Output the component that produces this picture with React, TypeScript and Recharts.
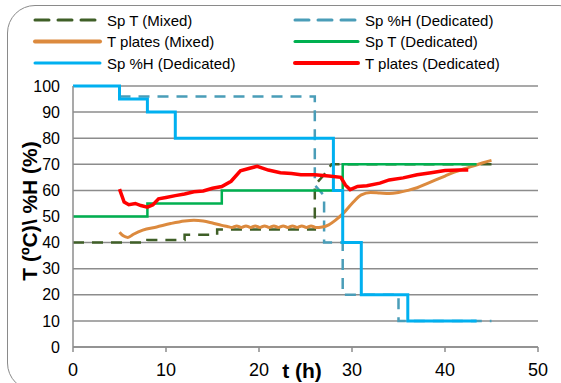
import React from 'react';
import { LineChart, Line, XAxis, YAxis, CartesianGrid } from 'recharts';

// series, t (h) -> value
const spTMixed = [
    { t: 0, v: 40 }, { t: 8, v: 40 }, { t: 8, v: 41 }, { t: 12, v: 41 }, { t: 12, v: 43 },
    { t: 15.5, v: 43 }, { t: 15.5, v: 45 }, { t: 26, v: 45 }, { t: 26, v: 62 },
    { t: 27, v: 66 }, { t: 27.8, v: 70 }, { t: 45, v: 70 },
];

const spHDedDashed = [
    { t: 5, v: 96 }, { t: 26, v: 96 }, { t: 26, v: 62 }, { t: 27, v: 58 }, { t: 27, v: 40 },
    { t: 29, v: 40 }, { t: 29, v: 20 }, { t: 35, v: 20 }, { t: 35, v: 10 }, { t: 45, v: 10 },
];

const tPlatesMixed = [
    { t: 5, v: 44 }, { t: 5.4, v: 42.6 }, { t: 5.9, v: 42 }, { t: 6.5, v: 43.2 }, { t: 7.5, v: 44.8 },
    { t: 9, v: 46 }, { t: 10.5, v: 47.3 }, { t: 12, v: 48.3 }, { t: 13, v: 48.6 }, { t: 14, v: 48.3 },
    { t: 15, v: 47.5 }, { t: 16, v: 46.6 }, { t: 16.6, v: 46.2 }, { t: 17.1, v: 45.8 },
    { t: 17.6, v: 46.4 }, { t: 18.1, v: 45.8 }, { t: 18.6, v: 46.4 }, { t: 19.1, v: 45.8 },
    { t: 19.6, v: 46.4 }, { t: 20.1, v: 45.8 }, { t: 20.6, v: 46.4 }, { t: 21.1, v: 45.8 },
    { t: 21.6, v: 46.4 }, { t: 22.1, v: 45.8 }, { t: 22.6, v: 46.4 }, { t: 23.1, v: 45.8 },
    { t: 23.6, v: 46.4 }, { t: 24.1, v: 45.8 }, { t: 24.6, v: 46.4 }, { t: 25.1, v: 45.8 },
    { t: 25.6, v: 46.4 }, { t: 26.1, v: 45.8 }, { t: 26.8, v: 46 }, { t: 27.5, v: 46.8 },
    { t: 28.2, v: 48.5 }, { t: 29, v: 51 }, { t: 30, v: 55 }, { t: 31, v: 58.3 }, { t: 32, v: 59.2 },
    { t: 33, v: 59 }, { t: 34, v: 58.8 }, { t: 35, v: 59.2 }, { t: 36, v: 60 }, { t: 37, v: 61 },
    { t: 38, v: 62.5 }, { t: 39, v: 64 }, { t: 40, v: 65.5 }, { t: 41, v: 67 }, { t: 42, v: 68.2 },
    { t: 43, v: 69.3 }, { t: 44, v: 70.5 }, { t: 45, v: 71.5 },
];

const spTDed = [
    { t: 0, v: 50 }, { t: 8, v: 50 }, { t: 8, v: 55 }, { t: 16, v: 55 }, { t: 16, v: 60 },
    { t: 29, v: 60 }, { t: 29, v: 70 }, { t: 43.4, v: 70 },
];

const spHDed = [
    { t: 0, v: 100 }, { t: 5, v: 100 }, { t: 5, v: 95 }, { t: 8, v: 95 }, { t: 8, v: 90 },
    { t: 11, v: 90 }, { t: 11, v: 80 }, { t: 28, v: 80 }, { t: 28, v: 60 }, { t: 29, v: 60 },
    { t: 29, v: 40 }, { t: 31, v: 40 }, { t: 31, v: 20 }, { t: 36, v: 20 }, { t: 36, v: 10 },
    { t: 43.4, v: 10 },
];

const tPlatesDed = [
    { t: 5, v: 60.5 }, { t: 5.5, v: 55.5 }, { t: 6, v: 54.5 }, { t: 6.7, v: 55 }, { t: 7.3, v: 54.2 },
    { t: 8, v: 53.6 }, { t: 8.6, v: 54.5 }, { t: 9.2, v: 56.8 }, { t: 10, v: 57.3 }, { t: 11, v: 58 },
    { t: 12, v: 58.6 }, { t: 13, v: 59.5 }, { t: 14, v: 59.8 }, { t: 15, v: 60.8 }, { t: 16, v: 61.5 },
    { t: 17, v: 63.5 }, { t: 18, v: 67.5 }, { t: 19, v: 68.5 }, { t: 19.8, v: 69.2 }, { t: 21, v: 67.8 },
    { t: 22.3, v: 66.8 }, { t: 23.5, v: 66.5 }, { t: 24.5, v: 66 }, { t: 26, v: 66 }, { t: 27.5, v: 65.5 },
    { t: 28.8, v: 65 }, { t: 29.3, v: 62 }, { t: 29.8, v: 60.3 }, { t: 30.6, v: 61.5 }, { t: 31.6, v: 61.8 },
    { t: 33, v: 62.8 }, { t: 34, v: 64 }, { t: 35.5, v: 64.8 }, { t: 37, v: 66 }, { t: 38.5, v: 66.8 },
    { t: 40, v: 67.6 }, { t: 41.5, v: 67.8 }, { t: 42.5, v: 67.8 },
];

const xTicks = [0, 10, 20, 30, 40, 50];
const yTicks = [0, 10, 20, 30, 40, 50, 60, 70, 80, 90, 100];

const FONT = "'Liberation Sans', Arial, sans-serif";

const legendItems = [
    { name: 'Sp T (Mixed)', color: '#3f5f27', dash: '14 9', width: 3, col: 0, row: 0 },
    { name: 'Sp %H (Dedicated)', color: '#4a9db8', dash: '14 9', width: 3, col: 1, row: 0 },
    { name: 'T plates (Mixed)', color: '#dc8a3e', dash: '', width: 4, col: 0, row: 1 },
    { name: 'Sp T (Dedicated)', color: '#00b050', dash: '', width: 3, col: 1, row: 1 },
    { name: 'Sp %H (Dedicated)', color: '#00b0f0', dash: '', width: 3, col: 0, row: 2 },
    { name: 'T plates (Dedicated)', color: '#ff0000', dash: '', width: 4, col: 1, row: 2 },
];

const ChartLegend = () => (
    <svg width={561} height={80} style={{ position: 'absolute', left: 0, top: 0 }}>
        {legendItems.map((item, i) => {
            const x1 = item.col === 0 ? 35 : 295;
            const x2 = item.col === 0 ? 100 : 358;
            const y = 20 + item.row * 21.5;
            return (
                <g key={i}>
                    <line x1={x1} x2={x2} y1={y} y2={y} stroke={item.color} strokeWidth={item.width}
                        strokeDasharray={item.dash || undefined} strokeLinecap="round" />
                    <text x={x2 + 7} y={y + 5.5} fontSize={15} fontFamily={FONT} fill="#000">{item.name}</text>
                </g>
            );
        })}
    </svg>
);

export default function App() {
    return (
        <div style={{ position: 'fixed', left: 0, top: 0, width: 561, height: 383, overflow: 'hidden', background: '#fff', fontFamily: FONT }}>
            {/* rounded frame */}
            <div style={{
                position: 'absolute', left: 7, top: 5, width: 580, height: 386,
                border: '1.3px solid #8a8a8a', borderRadius: 28, boxSizing: 'border-box',
            }} />
            <ChartLegend />
            <LineChart width={561} height={383} margin={{ top: 86, right: 23, bottom: 6, left: 13 }}
                style={{ position: 'absolute', left: 0, top: 0 }}>
                <CartesianGrid vertical={false} stroke="#8c8c8c" strokeWidth={1.5} />
                <XAxis type="number" dataKey="t" domain={[0, 50]} ticks={xTicks} height={30}
                    stroke="#8c8c8c" strokeWidth={1.5} tickSize={5} tickMargin={11}
                    tick={{ fontSize: 18, fill: '#000', fontFamily: FONT }} allowDataOverflow />
                <YAxis type="number" domain={[0, 100]} ticks={yTicks} width={60}
                    stroke="#8c8c8c" strokeWidth={1.5} tickLine={false} tickMargin={7}
                    tick={{ fontSize: 16, fill: '#000', fontFamily: FONT }} />

                <Line data={spTMixed} dataKey="v" type="linear" stroke="#3f5f27" strokeWidth={2.5}
                    strokeDasharray="11 8" dot={false} isAnimationActive={false} name="Sp T (Mixed)" />
                <Line data={spHDedDashed} dataKey="v" type="linear" stroke="#4a9db8" strokeWidth={2.5}
                    strokeDasharray="11 8" dot={false} isAnimationActive={false} name="Sp %H (Dedicated)" />
                <Line data={tPlatesMixed} dataKey="v" type="monotone" stroke="#dc8a3e" strokeWidth={3}
                    dot={false} isAnimationActive={false} name="T plates (Mixed)" />
                <Line data={spTDed} dataKey="v" type="linear" stroke="#00b050" strokeWidth={2.5}
                    dot={false} isAnimationActive={false} name="Sp T (Dedicated)" />
                <Line data={spHDed} dataKey="v" type="linear" stroke="#00b0f0" strokeWidth={3}
                    dot={false} isAnimationActive={false} name="Sp %H (Dedicated)" />
                <Line data={tPlatesDed} dataKey="v" type="linear" stroke="#ff0000" strokeWidth={3.5}
                    dot={false} isAnimationActive={false} name="T plates (Dedicated)" />
            </LineChart>
            {/* axis titles */}
            <div style={{
                position: 'absolute', left: 30, top: 211, transform: 'translate(-50%, -50%) rotate(-90deg)',
                whiteSpace: 'nowrap', fontWeight: 'bold', fontSize: 21, color: '#000',
            }}>T (ºC)\ %H (%)</div>
            <div style={{
                position: 'absolute', left: 302, top: 371, transform: 'translate(-50%, -50%)',
                whiteSpace: 'nowrap', fontWeight: 'bold', fontSize: 21, color: '#000',
            }}>t (h)</div>
        </div>
    );
}
